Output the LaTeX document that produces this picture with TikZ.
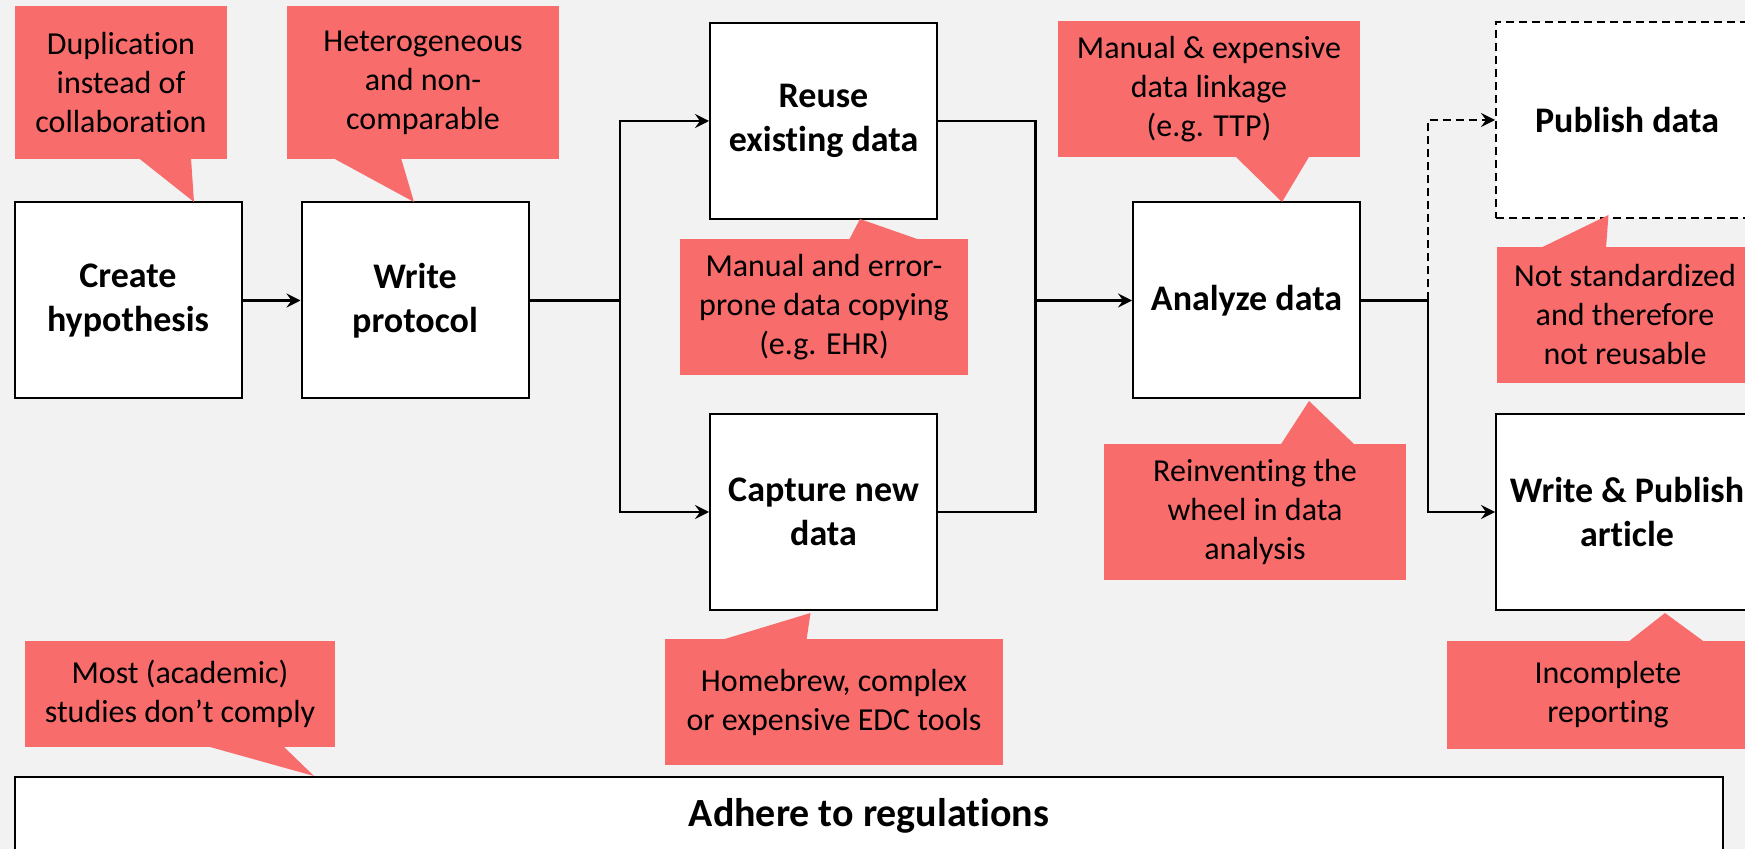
\documentclass[tikz,border=0pt]{standalone}
\usepackage{fontspec}
\setmainfont{Carlito}[Ligatures=NoCommon]
\usepackage{tikz}
\usetikzlibrary{arrows.meta,calc}
\definecolor{PageGrey}{RGB}{242,242,242}
\definecolor{IssueRed}{RGB}{248,108,108}

\begin{document}
\begin{tikzpicture}[x=0.5pt,y=-0.5pt,
    stepbox/.style={draw=black,line width=1pt,fill=white,inner sep=0pt,align=center,
      minimum width=113.5pt,minimum height=98pt,font=\fontsize{18}{22}\selectfont\bfseries},
    issue/.style={fill=IssueRed,inner sep=0pt,align=center,font=\fontsize{16}{19.5}\selectfont},
    link/.style={line width=1.1pt},
    flow/.style={link,-{Stealth[length=7pt,width=7pt,inset=2.5pt]}}]
    \useasboundingbox (0,0) rectangle (1745,849);
    \fill[PageGrey] (0,0) rectangle (1745,849);
    \clip (0,0) rectangle (1745,849);

    % process steps
    \node[stepbox] (hypothesis) at (128,300.5) {Create\\hypothesis};
    \node[stepbox] (protocol) at (415,300.5) {Write\\protocol};
    \node[stepbox] (reuse) at (823.5,121) {Reuse\\existing data};
    \node[stepbox] (capture) at (823.5,512) {Capture new\\data};
    \node[stepbox] (analyze) at (1246.5,300.5) {Analyze data};
    \node[stepbox,dash pattern=on 4pt off 2.5pt,minimum width=131pt] (pubdata) at (1627,120) {Publish data};
    \node[stepbox,minimum width=131pt] (article) at (1627,512) {Write \& Publish\\article};
    \node[stepbox,minimum width=854pt,minimum height=39pt,font=\fontsize{20}{24}\selectfont\bfseries] (regs) at (869,816) {Adhere to regulations};

    \coordinate (split) at (620,300.5);
    \coordinate (join) at (1035.5,300.5);
    \coordinate (fork) at (1428,300.5);

    % connectors
    \draw[flow] (hypothesis) -- (protocol);
    \draw[link] (protocol) -- (split);
    \draw[flow] (split) |- (reuse);
    \draw[flow] (split) |- (capture);
    \draw[link] (reuse) -| (join);
    \draw[link] (capture) -| (join);
    \draw[flow] (join) -- (analyze);
    \draw[link] (analyze) -- (fork);
    \draw[flow,dash pattern=on 4pt off 2.5pt] (fork) |- (pubdata);
    \draw[flow] (fork) |- (article);

    % problem callouts
    \node[issue,minimum width=106pt,minimum height=76.5pt] (dupnote) at (121,82.5) {Duplication\\instead of\\collaboration};
    \node[issue,minimum width=136pt,minimum height=76.5pt] (hetnote) at (423,82.5) {Heterogeneous\\and non-\\comparable};
    \node[issue,minimum width=144pt,minimum height=68pt] (copynote) at (824,307) {Manual and error-\\prone data copying\\(e.g. EHR)};
    \node[issue,minimum width=151pt,minimum height=68pt] (linknote) at (1209,89) {Manual \& expensive\\data linkage\\(e.g. TTP)};
    \node[issue,minimum width=151pt,minimum height=68pt] (wheelnote) at (1255,512) {Reinventing the\\wheel in data\\analysis};
    \node[issue,minimum width=128.5pt,minimum height=68pt] (stdnote) at (1625,315) {Not standardized\\and therefore\\not reusable};
    \node[issue,minimum width=169pt,minimum height=63pt] (edcnote) at (834,702) {Homebrew, complex\\or expensive EDC tools};
    \node[issue,minimum width=155pt,minimum height=53pt] (complynote) at (180,694) {Most (academic)\\studies don’t comply};
    \node[issue,minimum width=161pt,minimum height=54pt] (reportnote) at (1608,695) {Incomplete\\reporting};

    % callout pointers
    \fill[IssueRed] (138.5,158) -- (194,202) -- (191,158) -- cycle;
    \fill[IssueRed] (333,158) -- (414,202) -- (401,158) -- cycle;
    \fill[IssueRed] (849,240) -- (860,219) -- (920,240) -- cycle;
    \fill[IssueRed] (1235,156) -- (1282,202) -- (1309.5,156) -- cycle;
    \fill[IssueRed] (1280.5,445) -- (1309,401) -- (1355,445) -- cycle;
    \fill[IssueRed] (1540.5,248) -- (1608.5,215) -- (1606,248) -- cycle;
    \fill[IssueRed] (721.5,640) -- (810.5,613) -- (806.5,640) -- cycle;
    \fill[IssueRed] (206.5,746) -- (314,776) -- (283,746) -- cycle;
    \fill[IssueRed] (1628,642) -- (1665,613) -- (1704.5,642) -- cycle;
\end{tikzpicture}
\end{document}
